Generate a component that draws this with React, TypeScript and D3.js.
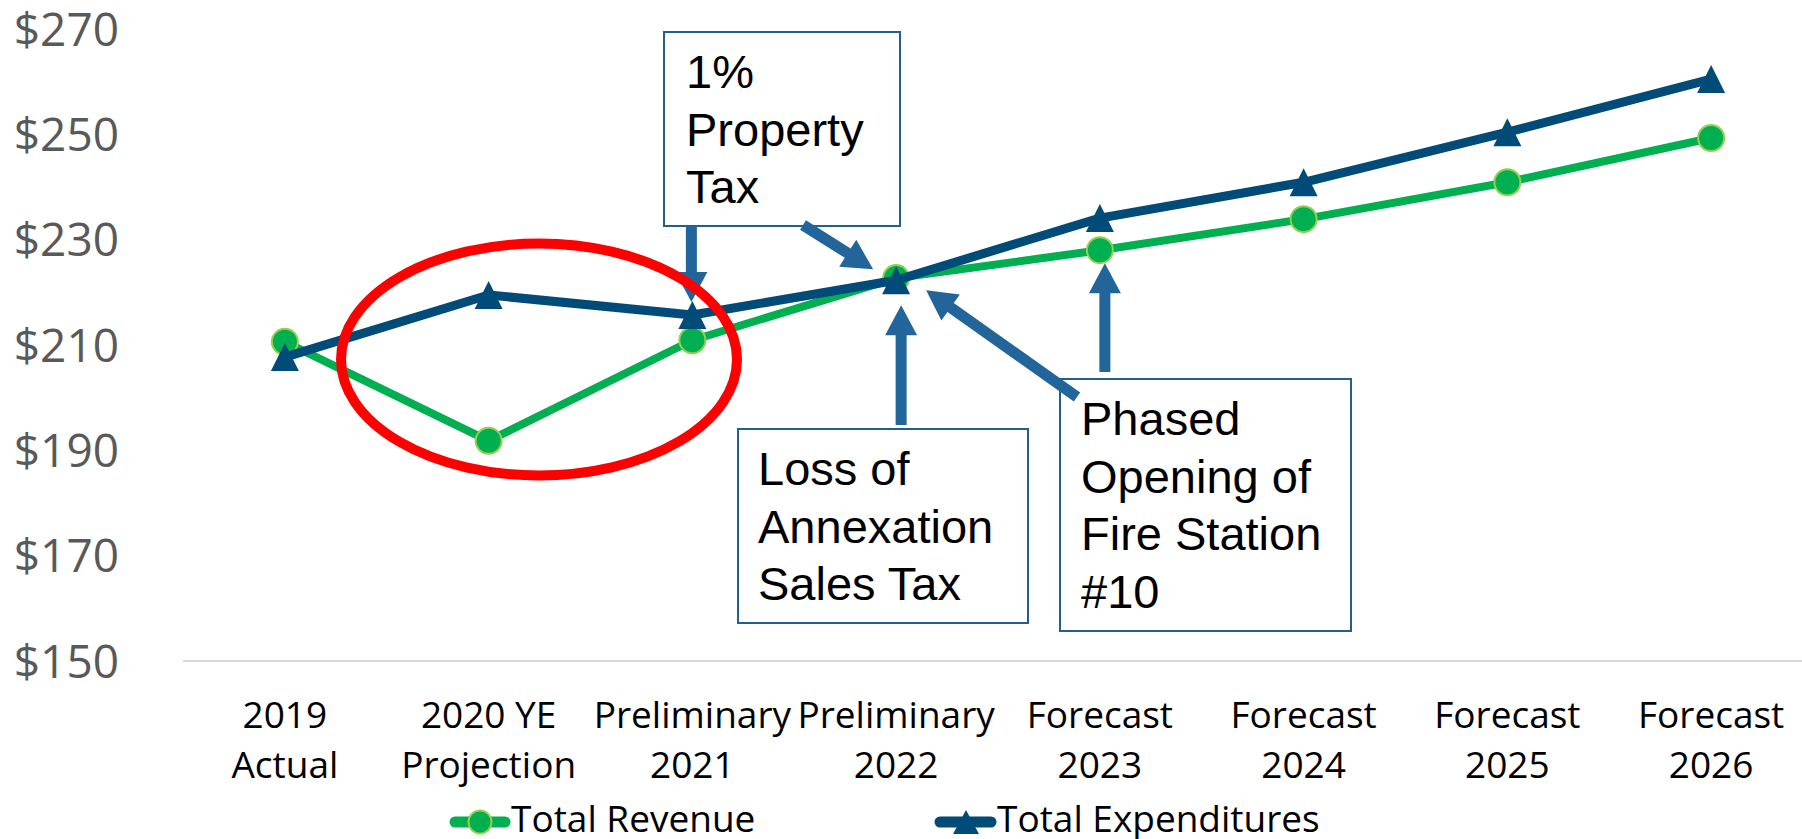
import React from "react";
import * as d3 from "d3";

const categories = [
  ["2019", "Actual"],
  ["2020 YE", "Projection"],
  ["Preliminary", "2021"],
  ["Preliminary", "2022"],
  ["Forecast", "2023"],
  ["Forecast", "2024"],
  ["Forecast", "2025"],
  ["Forecast", "2026"],
];
const revenue = [210.6, 191.8, 210.9, 222.7, 228.0, 233.9, 240.9, 249.3];
const expenditures = [207.7, 219.5, 215.7, 222.3, 234.1, 240.9, 250.4, 260.5];
const yTicks = [150, 170, 190, 210, 230, 250, 270];

const width = 1802;
const height = 839;
const BLUE = "#004b78";
const GREEN = "#00b050";
const LIGHTGREEN = "#92d050";
const ARROW = "#21659a";
const BOX = "#215f8d";

// call-out boxes (pixel layout)
const boxes = [
  { x: 664, y: 32, w: 236, h: 194, tx: 686, base: 88, lines: ["1%", "Property", "Tax"] },
  { x: 738, y: 429, w: 290, h: 194, tx: 758, base: 485, lines: ["Loss of", "Annexation", "Sales Tax"] },
  { x: 1060, y: 379, w: 291, h: 252, tx: 1081, base: 435, lines: ["Phased", "Opening of", "Fire Station", "#10"] },
];

const arrowPath = (x1: number, y1: number, x2: number, y2: number) => {
  const dx = x2 - x1;
  const dy = y2 - y1;
  const len = Math.hypot(dx, dy);
  const ux = dx / len;
  const uy = dy / len;
  const px = -uy;
  const py = ux;
  const sw = 5.5; // half shaft
  const hw = 16; // half head
  const hl = 30; // head length
  const bx = x2 - ux * hl;
  const by = y2 - uy * hl;
  const pts = [
    [x1 + px * sw, y1 + py * sw],
    [bx + px * sw, by + py * sw],
    [bx + px * hw, by + py * hw],
    [x2, y2],
    [bx - px * hw, by - py * hw],
    [bx - px * sw, by - py * sw],
    [x1 - px * sw, y1 - py * sw],
  ];
  return "M" + pts.map((p) => p.join(",")).join("L") + "Z";
};

const tri = (w: number, h: number) => `M0,${-h / 2}L${w / 2},${h / 2}L${-w / 2},${h / 2}Z`;

export default function App() {
  const x = d3
    .scaleBand<number>()
    .domain(d3.range(categories.length))
    .range([183, 1813]);
  const y = d3.scaleLinear().domain([150, 270]).range([661, 29]);
  const cx = (i: number) => (x(i) as number) + x.bandwidth() / 2;

  const line = d3
    .line<number>()
    .x((_, i) => cx(i))
    .y((d) => y(d));

  // arrows anchored to the points they call out
  const arrows = [
    [cx(2) - 1, 226, cx(2) - 1, y(expenditures[2]) - 13],
    [803, 225, cx(3) - 23, y(expenditures[3]) - 11],
    [cx(3) + 5, 425, cx(3) + 5, y(expenditures[3]) + 25],
    [1077, 397, cx(3) + 30, y(expenditures[3]) + 10],
    [cx(4) + 5, 372, cx(4) + 5, y(revenue[4]) + 13],
  ];

  return (
    <svg
      width={width}
      height={height}
      style={{ position: "absolute", left: 0, top: 0, background: "#fff" }}
    >
      {/* y tick labels */}
      <g fontFamily="'Open Sans', sans-serif" fontSize={46} fill="#595959" textAnchor="end">
        {yTicks.map((t) => (
          <text key={t} x={119} y={y(t)} dy="0.36em">
            ${t}
          </text>
        ))}
      </g>
      {/* baseline */}
      <line x1={183} x2={width} y1={y(150)} y2={y(150)} stroke="#d9d9d9" strokeWidth={2} />

      {/* x labels */}
      <g fontFamily="'Open Sans', sans-serif" fontSize={37} fill="#000" textAnchor="middle">
        {categories.map((c, i) => (
          <text key={i} x={cx(i)}>
            <tspan x={cx(i)} y={728}>{c[0]}</tspan>
            <tspan x={cx(i)} y={778}>{c[1]}</tspan>
          </text>
        ))}
      </g>

      {/* series */}
      <path d={line(revenue) ?? ""} fill="none" stroke={GREEN} strokeWidth={8} strokeLinejoin="round" />
      {revenue.map((v, i) => (
        <circle key={i} cx={cx(i)} cy={y(v)} r={13} fill={GREEN} stroke={LIGHTGREEN} strokeWidth={2} />
      ))}
      <path d={line(expenditures) ?? ""} fill="none" stroke={BLUE} strokeWidth={9} strokeLinejoin="round" />
      {expenditures.map((v, i) => (
        <path key={i} d={tri(28, 28)} transform={`translate(${cx(i)},${y(v)})`} fill={BLUE} />
      ))}

      {/* call-out boxes */}
      {boxes.map((b, i) => (
        <g key={i}>
          <rect x={b.x} y={b.y} width={b.w} height={b.h} fill="#fff" stroke={BOX} strokeWidth={2} />
          <text fontFamily="'Liberation Sans', Arial, sans-serif" fontSize={47} fill="#000">
            {b.lines.map((l, j) => (
              <tspan key={j} x={b.tx} y={b.base + j * 57.7}>
                {l}
              </tspan>
            ))}
          </text>
        </g>
      ))}

      {/* arrows */}
      {arrows.map((a, i) => (
        <path key={i} d={arrowPath(a[0], a[1], a[2], a[3])} fill={ARROW} />
      ))}

      {/* highlight ellipse */}
      <ellipse cx={539} cy={359.5} rx={198} ry={116} fill="none" stroke="#ff0000" strokeWidth={10} />

      {/* legend */}
      <g transform="translate(0,822)">
        <line x1={455} x2={505} y1={0} y2={0} stroke={GREEN} strokeWidth={11} strokeLinecap="round" />
        <circle cx={480} cy={0} r={11.5} fill={GREEN} stroke={LIGHTGREEN} strokeWidth={2} />
        <text x={511} y={10} fontFamily="'Open Sans', sans-serif" fontSize={37} fill="#000">
          Total Revenue
        </text>
        <line x1={940} x2={991} y1={0} y2={0} stroke={BLUE} strokeWidth={11} strokeLinecap="round" />
        <path d={tri(26, 24)} transform="translate(966,0)" fill={BLUE} />
        <text x={997} y={10} fontFamily="'Open Sans', sans-serif" fontSize={37} fill="#000">
          Total Expenditures
        </text>
      </g>
    </svg>
  );
}
